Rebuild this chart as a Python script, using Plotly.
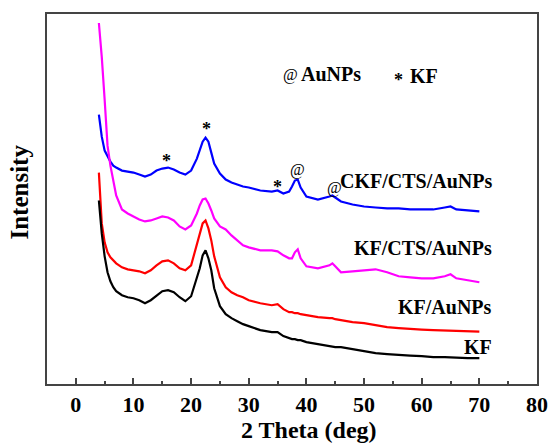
import plotly.graph_objects as go

two_theta = [4, 4.5, 5, 5.5, 6, 6.5, 7, 8, 9, 10, 11, 12, 13, 14, 15, 16, 17, 18, 19, 20,
             21, 21.5, 22, 22.5, 23, 23.5, 24, 25, 26, 27, 28, 29, 30, 32, 34, 35, 36, 37,
             37.5, 38, 38.5, 39, 40, 42, 44, 44.5, 45, 46, 48, 50, 52, 54, 56, 58, 60, 62,
             64, 65, 66, 68, 70]

ckf_cts_aunps = [270, 248, 234, 228, 223, 219, 217, 214, 213, 212, 210, 208, 210, 214, 216, 217,
                 215, 212, 210, 214, 226, 234, 243, 247, 243, 232, 221, 211, 205, 202, 200, 198,
                 197, 194, 193, 194, 191, 193, 198, 204, 205, 197, 188, 185, 188, 189, 187, 183,
                 180, 178, 177, 176, 176, 175, 175, 175, 177, 178, 175, 174, 173]

kf_cts_aunps = [362, 328, 285, 239, 219, 202, 189, 175, 171, 168, 165, 163, 164, 166, 168, 167,
                164, 158, 155, 159, 171, 179, 185, 186, 181, 174, 166, 158, 155, 149, 144, 139,
                137, 134, 134, 133, 129, 126, 126, 132, 135, 126, 118, 116, 119, 121, 118, 112,
                113, 114, 115, 112, 108, 107, 106, 106, 108, 110, 106, 104, 102]

kf_aunps = [212, 161, 142, 132, 127, 124, 121, 117, 115, 114, 113, 111, 114, 119, 123, 124,
            121, 116, 114, 119, 140, 151, 161, 164, 156, 144, 128, 107, 97, 92, 89, 87,
            84, 81, 79, 80, 75, 72, 72, 71, 71, 70, 69, 67, 66, 66, 65, 64,
            62, 61, 59, 57, 56, 55, 54.5, 54, 53.5, 53, 53, 53, 52.5]

kf = [184, 151, 128, 112, 103, 97, 93, 89, 87, 86, 84, 81, 84, 89, 93, 94,
      92, 87, 83, 88, 106, 116, 129, 134, 126, 114, 96, 78, 70, 66, 63, 60,
      58, 54, 52, 52, 48, 46, 45, 45, 44, 44, 42, 40, 38, 38, 37, 37,
      35, 32.5, 31, 30, 29, 28.5, 28, 27, 27, 27, 26.5, 26, 26]

series_names = ["CKF/CTS/AuNPs", "KF/CTS/AuNPs", "KF/AuNPs", "KF"]
series_values = [ckf_cts_aunps, kf_cts_aunps, kf_aunps, kf]
series_colors = ["#0000FF", "#FF00FF", "#FF0000", "#000000"]

# label positions (two_theta, intensity)
label_x = [72.56, 72.56, 72.56, 72.56]
label_y = [204, 136, 77, 37]

star_x = [15.7, 22.65, 35.0]
star_y = [224, 256, 198]
at_x = [38.4, 44.9]
at_y = [215, 197]

FONT = "Liberation Serif"

fig = go.Figure()
for name, vals, col in zip(series_names, series_values, series_colors):
    fig.add_trace(go.Scatter(x=two_theta, y=vals, mode="lines", name=name,
                             line=dict(color=col, width=2.2), showlegend=False))

ann = []
for name, lx, ly in zip(series_names, label_x, label_y):
    ann.append(dict(x=lx, y=ly, xref="x", yref="y", text=name, showarrow=False,
                    xanchor="right", yanchor="middle",
                    font=dict(family=FONT, size=20, color="black", weight="bold")))
for sx, sy in zip(star_x, star_y):
    ann.append(dict(x=sx, y=sy, xref="x", yref="y", text="*", showarrow=False,
                    font=dict(family=FONT, size=18, color="black", weight="bold")))
for ax_, ay_ in zip(at_x, at_y):
    ann.append(dict(x=ax_, y=ay_, xref="x", yref="y", text="@", showarrow=False,
                    font=dict(family=FONT, size=16, color="black")))

# legend-like key
ann.append(dict(x=37.3, y=310, xref="x", yref="y", text="@", showarrow=False,
                font=dict(family=FONT, size=16, color="black")))
ann.append(dict(x=44.29, y=311, xref="x", yref="y", text="AuNPs", showarrow=False,
                font=dict(family=FONT, size=20, color="black", weight="bold")))
ann.append(dict(x=56.04, y=305, xref="x", yref="y", text="*", showarrow=False,
                font=dict(family=FONT, size=18, color="black", weight="bold")))
ann.append(dict(x=60.47, y=309, xref="x", yref="y", text="KF", showarrow=False,
                font=dict(family=FONT, size=20, color="black", weight="bold")))

# axis titles
ann.append(dict(x=0.534, y=-0.166, xref="paper", yref="paper", text="2 Theta (deg)",
                showarrow=False, xanchor="center", yanchor="bottom",
                font=dict(family=FONT, size=24, color="black", weight="bold")))
ann.append(dict(x=-0.056, y=0.519, xref="paper", yref="paper", text="Intensity",
                showarrow=False, textangle=-90, xanchor="center", yanchor="middle",
                font=dict(family=FONT, size=25, color="black", weight="bold")))

fig.update_layout(
    width=560, height=445,
    margin=dict(l=47, r=13, t=13, b=61),
    paper_bgcolor="white", plot_bgcolor="white",
    annotations=ann,
    xaxis=dict(range=[-5, 80], tickvals=[0, 10, 20, 30, 40, 50, 60, 70, 80],
               ticks="inside", ticklen=6, tickwidth=1.5, tickcolor="#444",
               minor=dict(tickvals=[-5, 5, 15, 25, 35, 45, 55, 65, 75], ticks="inside",
                          ticklen=3, tickwidth=1.5, tickcolor="#444"),
               showline=True, linecolor="#444", linewidth=1.5, mirror=True,
               showgrid=False, zeroline=False,
               tickfont=dict(family=FONT, size=22, color="black", weight="bold")),
    yaxis=dict(range=[0, 371], showticklabels=False, ticks="",
               showline=True, linecolor="#444", linewidth=1.5, mirror=True,
               showgrid=False, zeroline=False),
)

fig.write_html("out.html")
